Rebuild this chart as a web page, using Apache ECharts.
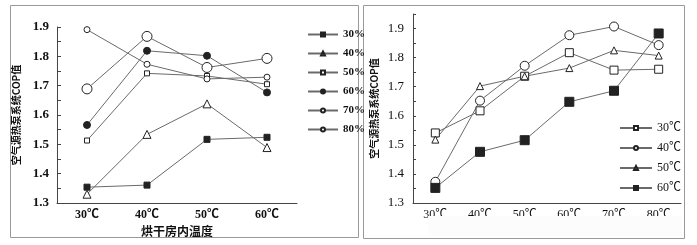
<!DOCTYPE html>
<html><head><meta charset="utf-8">
<script src="https://cdn.jsdelivr.net/npm/echarts@6/dist/echarts.min.js"></script>
<style>html,body{margin:0;padding:0;background:#fff}#c{width:697px;height:245px}</style>
</head><body><div id="c"></div>
<script>
// Left chart: COP vs drying-room temperature, series by humidity
const leftCategories = ['30℃', '40℃', '50℃', '60℃'];
const leftNames = ['30%', '40%', '50%', '60%', '70%', '80%'];
const left30 = [1.354, 1.361, 1.517, 1.524];
const left40 = [1.330, 1.534, 1.638, 1.489];
const left50 = [1.513, 1.742, 1.733, 1.705];
const left60 = [1.566, 1.819, 1.802, 1.677];
const left70 = [1.689, 1.868, 1.762, 1.793];
const left80 = [1.891, 1.773, 1.723, 1.729];
// Right chart: COP vs humidity, series by temperature
const rightCategories = ['30℃', '40℃', '50℃', '60℃', '70℃', '80℃'];
const rightNames = ['30℃', '40℃', '50℃', '60℃'];
const right30 = [1.541, 1.617, 1.736, 1.817, 1.757, 1.760];
const right40 = [1.373, 1.652, 1.772, 1.877, 1.907, 1.843];
const right50 = [1.518, 1.702, 1.736, 1.764, 1.825, 1.807];
const right60 = [1.352, 1.476, 1.516, 1.648, 1.686, 1.883];
const yTitle = '空气源热泵系统COP值';
const xTitleLeft = '烘干房内温度';

const serif = '"Liberation Serif", "Noto Sans CJK SC", serif';
const cjk = '"Noto Sans CJK SC", sans-serif';
const lineColor = '#6a6a6a';
const ink = '#222';

function yLabel(v) {
  return Math.abs(v * 10 - Math.round(v * 10)) < 1e-6 ? v.toFixed(1) : '';
}
function mk(name, data, xi, yi, symbol, size, filled) {
  return {
    name, type: 'line', data, xAxisIndex: xi, yAxisIndex: yi,
    symbol, symbolSize: size, showAllSymbol: true,
    lineStyle: { color: lineColor, width: 1 },
    itemStyle: { color: filled ? ink : '#fff', borderColor: ink, borderWidth: 1 },
    emphasis: { disabled: true }, animation: false
  };
}
const chart = echarts.init(document.getElementById('c'));
chart.setOption({
  animation: false,
  graphic: [
    { type: 'rect', shape: { x: 10.5, y: 5.5, width: 348, height: 232 }, style: { fill: 'none', stroke: '#999', lineWidth: 1 }, z: -1 },
    { type: 'rect', shape: { x: 363.5, y: 5.5, width: 321, height: 233 }, style: { fill: 'none', stroke: '#999', lineWidth: 1 }, z: -1 },
    { type: 'rect', shape: { x: 428, y: 216, width: 254, height: 20 }, style: { fill: '#fcfcfc' }, z: 100 }
  ],
  grid: [
    { left: 57, top: 27, width: 240, height: 176 },
    { left: 413, top: 14, width: 268, height: 189 }
  ],
  legend: [
    { data: leftNames, left: 302, top: 24, orient: 'vertical', itemWidth: 30, itemHeight: 5, itemGap: 8,
      textStyle: { fontFamily: serif, fontSize: 11, fontWeight: 'bold', color: '#111' }, selectedMode: false },
    { data: rightNames, left: 614, top: 117, orient: 'vertical', itemWidth: 32, itemHeight: 5, itemGap: 8,
      textStyle: { fontFamily: serif, fontSize: 12, color: '#111' }, selectedMode: false }
  ],
  xAxis: [
    { gridIndex: 0, type: 'category', data: leftCategories, boundaryGap: true,
      axisLine: { lineStyle: { color: '#444' } },
      axisTick: { inside: true, length: 3, interval: 0, lineStyle: { color: '#444' } },
      axisLabel: { margin: 6, fontFamily: serif, fontSize: 12, fontWeight: 'bold', color: '#111' },
      name: xTitleLeft, nameLocation: 'middle', nameGap: 18,
      nameTextStyle: { fontFamily: cjk, fontSize: 12, fontWeight: 'bold', color: '#111' } },
    { gridIndex: 0, type: 'category', data: leftCategories, boundaryGap: true, position: 'bottom',
      axisLine: { show: false }, axisLabel: { show: false },
      axisTick: { inside: true, length: 4, alignWithLabel: true, lineStyle: { color: '#444' } } },
    { gridIndex: 1, type: 'category', data: rightCategories, boundaryGap: true,
      axisLine: { lineStyle: { color: '#444' } },
      axisTick: { inside: true, length: 3, interval: 0, lineStyle: { color: '#444' } },
      axisLabel: { margin: 6, fontFamily: serif, fontSize: 12, color: '#111' } },
    { gridIndex: 1, type: 'category', data: rightCategories, boundaryGap: true, position: 'bottom',
      axisLine: { show: false }, axisLabel: { show: false },
      axisTick: { inside: true, length: 4, alignWithLabel: true, lineStyle: { color: '#444' } } }
  ],
  yAxis: [
    { gridIndex: 0, type: 'value', min: 1.3, max: 1.9, interval: 0.05,
      axisLine: { show: true, lineStyle: { color: '#444' } },
      axisTick: { show: true, inside: true, length: 4, lineStyle: { color: '#444' } },
      splitLine: { show: false },
      axisLabel: { formatter: yLabel, margin: 8, fontFamily: serif, fontSize: 13, fontWeight: 'bold', color: '#111' },
      name: yTitle, nameLocation: 'middle', nameGap: 36, nameRotate: 90,
      nameTextStyle: { fontFamily: cjk, fontSize: 10, fontWeight: 'bold', color: '#111' } },
    { gridIndex: 1, type: 'value', min: 1.3, max: 1.95, interval: 0.05,
      axisLine: { show: true, lineStyle: { color: '#444' } },
      axisTick: { show: true, inside: true, length: 3, lineStyle: { color: '#444' } },
      splitLine: { show: false },
      axisLabel: { formatter: yLabel, margin: 9, fontFamily: serif, fontSize: 13, color: '#111' },
      name: yTitle, nameLocation: 'middle', nameGap: 34, nameRotate: 90,
      nameTextStyle: { fontFamily: cjk, fontSize: 10, fontWeight: 'bold', color: '#111' } }
  ],
  series: [
    mk('30%', left30, 0, 0, 'rect', 6, true),
    mk('40%', left40, 0, 0, 'triangle', 8, false),
    mk('50%', left50, 0, 0, 'rect', 5, false),
    mk('60%', left60, 0, 0, 'circle', 7, true),
    mk('70%', left70, 0, 0, 'circle', 10, false),
    mk('80%', left80, 0, 0, 'circle', 6, false),
    mk('30℃', right30, 2, 1, 'rect', 8, false),
    mk('40℃', right40, 2, 1, 'circle', 9, false),
    mk('50℃', right50, 2, 1, 'triangle', 7, false),
    mk('60℃', right60, 2, 1, 'rect', 9, true)
  ]
});
</script></body></html>
